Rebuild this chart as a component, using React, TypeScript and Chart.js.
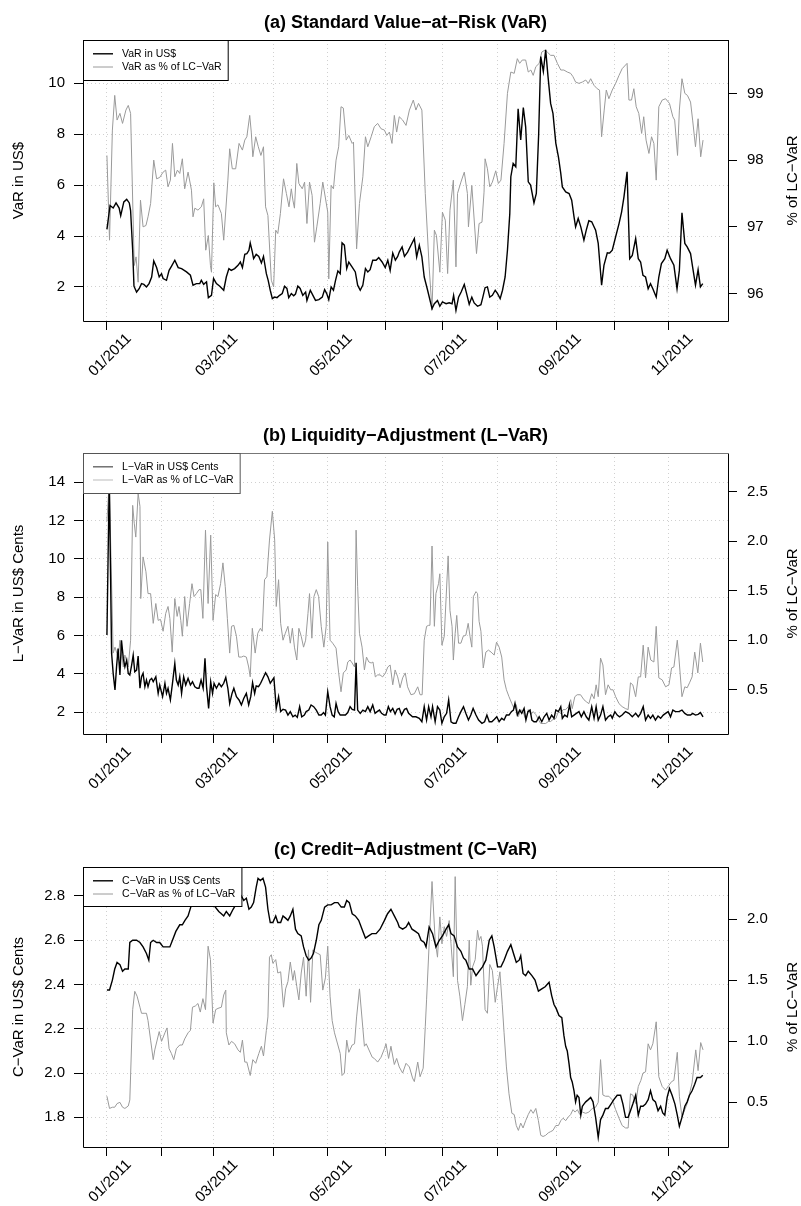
import React, { useEffect, useRef } from "react";
import { Chart, registerables } from "chart.js";

Chart.register(...registerables);

const FONT = "'Liberation Sans', Arial, Helvetica, sans-serif";

// Trading-day index (weekdays counted from 3 Jan 2011) of the first day of each month.
const monthTickDays = [0, 21, 41, 64, 85, 107, 129, 150, 173, 195, 216];
const monthTickLabels = ["01/2011", "", "03/2011", "", "05/2011", "", "07/2011", "", "09/2011", "", "11/2011"];

type Pt = [number, number];

// (a) VaR in US$  [trading day, value]
const varUsd: Pt[] = [
  [0, 4.26], [1.2, 5.2], [2.4, 5.1], [3.5, 5.3], [4.7, 5.1], [5.3, 4.8], [6.5, 5.34], [7.6, 5.44], [8.6, 5.3], [9.1, 5.0],
  [9.9, 3.44], [10.4, 2.03], [11.4, 1.8], [12.4, 1.93], [13.3, 2.13], [14.2, 2.1], [15.2, 2.0], [16.2, 2.13], [17.2, 2.39], [18, 3.02],
  [19.1, 2.76], [20.1, 2.39], [21, 2.52], [21.6, 2.33], [22.9, 2.26], [23.9, 2.65], [24.8, 2.81], [26.1, 3.05], [27.4, 2.76], [28.7, 2.72],
  [30.6, 2.59], [32.1, 2.46], [33.1, 2.07], [34.4, 2.13], [35.7, 2.13], [36.3, 2.26], [37.2, 2.1], [38.3, 2.2], [39, 1.58], [40.2, 1.67],
  [41, 2.33], [42.1, 2.13], [43.4, 2.03], [44.9, 1.87], [45.9, 2.39], [46.9, 2.72], [47.8, 2.65], [49.1, 2.72], [50.4, 2.85], [51.3, 2.98],
  [52.1, 2.76], [53, 3.28], [53.8, 3.31], [54.6, 3.44], [55.1, 3.73], [55.9, 3.38], [56.4, 3.11], [57.4, 3.28], [58.4, 3.2], [59.4, 2.94],
  [60.2, 3.2], [61.3, 2.52], [62, 2.26], [62.8, 1.87], [63.6, 1.54], [64.5, 1.6], [65.4, 1.58], [66.4, 1.67], [67.4, 1.74], [68.3, 2.03],
  [69.2, 1.94], [69.9, 1.58], [70.9, 1.74], [71.8, 1.65], [72.5, 1.72], [73.4, 2.03], [74.3, 1.94], [75.3, 1.67], [76.4, 1.8], [76.9, 1.47],
  [78.2, 1.87], [79.2, 1.67], [80.2, 1.47], [81.5, 1.5], [82.8, 1.6], [83.7, 1.9], [84.5, 1.74], [85.3, 1.5], [86.2, 2.0], [87.1, 1.87],
  [87.9, 2.26], [88.8, 2.63], [89.7, 2.52], [90.4, 3.73], [91.3, 3.64], [92.2, 2.72], [93, 2.98], [94.3, 2.78], [95.5, 2.59], [96.4, 2.07],
  [97.4, 1.87], [98.4, 2.07], [99.4, 2.72], [100.3, 2.59], [101.2, 2.68], [102.2, 3.05], [103.5, 3.05], [104.5, 3.15], [105.8, 2.98], [107, 2.76],
  [108, 3.05], [108.9, 2.65], [109.9, 3.33], [110.9, 3.05], [111.8, 3.2], [112.4, 3.37], [113.5, 3.57], [114.4, 3.2], [115.6, 3.37], [116.9, 3.64],
  [118.2, 3.9], [119.1, 3.18], [120.1, 3.64], [121.1, 3.18], [122, 2.39], [123.3, 1.87], [125, 1.15], [125.9, 1.34], [127.1, 1.47], [128, 1.24],
  [129, 1.41], [130.4, 1.34], [131.6, 1.38], [132.7, 1.34], [133.3, 1.67], [134.2, 1.08], [135.2, 1.6], [136.2, 1.8], [137.4, 2.1], [138.3, 1.74],
  [139.3, 1.32], [140.3, 1.6], [141.2, 1.37], [142.5, 1.24], [143.8, 1.3], [144.4, 1.54], [145.4, 1.97], [146.3, 2.0], [147.2, 1.6], [148.2, 1.67],
  [149.3, 1.87], [150.2, 1.74], [151.2, 1.54], [152.1, 1.87], [153.1, 2.39], [154, 3.44], [154.9, 4.88], [155.3, 6.33], [156.2, 6.85], [157.2, 6.72],
  [158.1, 9.0], [159.1, 7.77], [160.1, 9.05], [161, 8.29], [162, 6.13], [162.9, 6.0], [164.2, 5.3], [165.1, 5.67], [166, 8.0], [166.8, 11.05],
  [167.8, 10.46], [168.7, 11.31], [169.6, 10.26], [170.6, 9.21], [171.5, 8.82], [172.6, 7.64], [173.6, 7.11], [174.5, 6.46], [175.1, 5.93], [176.4, 5.73],
  [177.7, 5.67], [178.7, 5.41], [179.6, 4.75], [180.2, 4.36], [181.2, 4.69], [182.2, 4.36], [183.4, 3.84], [184.3, 4.23], [185.3, 4.6], [186.4, 4.56],
  [187.9, 4.23], [188.9, 3.71], [190.2, 2.07], [191.1, 2.85], [192.4, 3.34], [193.3, 3.33], [194.3, 3.44], [195.6, 3.97], [196.9, 4.49], [197.9, 4.95],
  [198.8, 5.54], [200, 6.52], [201, 3.11], [202, 3.24], [203.3, 3.9], [204.3, 3.11], [205.2, 2.98], [206.1, 2.46], [207.1, 2.39], [208.1, 1.93],
  [209, 2.13], [209.9, 1.93], [211.2, 1.6], [212.2, 2.39], [213.2, 2.92], [214.5, 3.11], [215.4, 3.44], [216.7, 3.11], [218, 2.85], [219.2, 1.93],
  [220.1, 2.65], [221.1, 4.91], [222.2, 3.71], [223.1, 3.57], [224.4, 3.31], [225.2, 2.78], [226.3, 2.07], [227.3, 2.68], [228.2, 2.0], [229.1, 2.13],
];

// (a) VaR as % of LC-VaR
const varPct: Pt[] = [
  [0, 98.07], [1, 96.8], [2.1, 98.45], [3, 98.97], [3.9, 98.6], [5, 98.7], [6, 98.55], [7.3, 98.75], [8.2, 98.82], [9.1, 98.7],
  [10.5, 96.42], [11.2, 96.55], [12, 96.17], [12.9, 97.4], [13.9, 97.0], [15, 97.02], [15.8, 97.15], [16.8, 97.35], [18, 98.0], [19.1, 97.72],
  [20.3, 97.74], [21.6, 97.82], [22.6, 97.85], [23.5, 97.6], [24.4, 97.7], [25.2, 98.25], [26.1, 97.75], [27.1, 97.85], [28, 97.8], [29, 98.02],
  [29.9, 97.57], [31.2, 97.82], [32.5, 97.55], [33.1, 97.15], [33.8, 97.28], [35, 97.25], [36.3, 97.3], [37.2, 97.42], [38, 96.65], [39, 96.87],
  [39.8, 96.42], [40.2, 96.32], [41.1, 97.66], [41.8, 97.3], [42.7, 97.33], [44, 97.2], [44.9, 96.8], [46.5, 97.7], [47.2, 98.17], [48.2, 97.87],
  [49.5, 97.87], [50.8, 98.25], [52.1, 98.15], [53, 98.3], [53.8, 98.35], [54.9, 98.67], [55.5, 98.42], [56.1, 98.05], [57.2, 98.35], [58.2, 98.2],
  [59.2, 98.07], [60.2, 98.2], [61, 97.3], [61.9, 97.17], [63.2, 96.2], [64.1, 96.1], [64.9, 96.95], [65.7, 96.9], [66.7, 97.2], [67.9, 97.72],
  [69, 97.5], [70, 97.3], [70.9, 97.57], [71.5, 97.4], [72.1, 97.28], [73, 97.95], [73.8, 97.65], [75.1, 97.57], [76, 97.67], [76.9, 97.05],
  [77.9, 97.67], [78.9, 97.47], [79.8, 96.77], [80.7, 97.0], [82, 97.35], [83, 97.67], [84.9, 97.22], [85.3, 96.22], [86.2, 97.62], [87.1, 97.57],
  [88.1, 98.0], [89.1, 98.2], [90, 98.8], [90.9, 98.78], [92, 98.3], [93, 98.37], [94.3, 98.25], [94.8, 98.27], [96, 96.67], [97.1, 97.35],
  [98.4, 97.75], [99.4, 98.35], [100.3, 98.2], [101.6, 98.35], [102.8, 98.5], [104.1, 98.55], [105.4, 98.47], [106.7, 98.45], [107.6, 98.37], [108.6, 98.42],
  [109.6, 98.25], [110.5, 98.67], [111.4, 98.42], [112.4, 98.65], [113.7, 98.6], [115, 98.52], [116.3, 98.75], [117.8, 98.9], [118.8, 98.75], [119.8, 98.85],
  [121.1, 98.75], [122.4, 97.5], [123.9, 96.4], [125, 95.75], [125.9, 96.95], [126.7, 96.87], [128, 96.32], [129, 97.22], [130.1, 97.1], [131, 96.3],
  [131.9, 97.25], [133.2, 97.7], [134.2, 96.4], [134.8, 97.5], [136.1, 97.67], [137.4, 97.82], [138.6, 97.5], [139, 97.0], [140.3, 97.62], [142.1, 96.6],
  [143.1, 97.05], [144.2, 97.07], [145, 97.52], [145.4, 98.02], [146.3, 97.87], [147.2, 97.6], [148.2, 97.67], [149.5, 97.84], [150.5, 97.65], [151.5, 97.7],
  [152.7, 98.25], [154, 99.0], [155.3, 99.32], [156.6, 99.3], [157.8, 99.52], [158.7, 99.45], [159.7, 99.5], [161, 99.5], [162, 99.32], [163, 99.35],
  [163.9, 99.27], [164.9, 99.4], [166.2, 99.45], [167.2, 99.62], [168.5, 99.65], [169.3, 99.62], [170.6, 99.57], [171.9, 99.57], [173.2, 99.45], [174.5, 99.35],
  [175.7, 99.35], [177, 99.32], [178.3, 99.3], [179.2, 99.25], [180.2, 99.17], [181.5, 99.15], [182.8, 99.17], [184.1, 99.2], [185.1, 99.15], [186, 99.22],
  [187.3, 99.12], [188.5, 99.07], [189.4, 99.05], [190.2, 98.35], [191.2, 98.75], [192, 99.05], [193, 98.92], [194.3, 99.05], [195.6, 99.15], [196.9, 99.27],
  [198.1, 99.37], [200, 99.45], [200.7, 98.9], [201.7, 98.9], [202.6, 99.07], [203.5, 98.8], [204.5, 98.7], [205.6, 98.4], [206.4, 98.65], [207.3, 98.3],
  [208.4, 98.1], [209.4, 98.35], [210.3, 98.25], [211.2, 97.7], [212.2, 98.8], [213.5, 98.9], [214.8, 98.92], [216.3, 98.85], [217.6, 98.65], [218.3, 98.6],
  [219.4, 98.07], [220.1, 98.75], [221.1, 99.22], [222.2, 99.0], [223.2, 98.97], [224.4, 98.87], [225.2, 98.6], [226.3, 98.2], [227.3, 98.62], [228.3, 98.05],
  [229.2, 98.3],
];

// (b) L-VaR in US$ cents
const lvarUsd: Pt[] = [
  [0, 6.02], [0.9, 14.2], [1.8, 5.06], [2.4, 4.02], [3.1, 3.15], [3.7, 4.36], [4.3, 5.32], [5, 3.93], [5.6, 5.75], [6.3, 4.8],
  [6.9, 4.36], [7.6, 4.71], [8.2, 4.02], [8.8, 3.93], [9.5, 4.45], [10.1, 4.97], [10.7, 4.1], [11.4, 4.19], [12, 4.92], [12.7, 3.24],
  [13.3, 3.84], [13.9, 4.02], [14.6, 3.32], [15.2, 3.67], [15.8, 3.32], [16.5, 3.67], [17.2, 3.76], [17.8, 3.58], [18.8, 3.84], [19.7, 2.97],
  [20.3, 3.41], [21.4, 2.8], [22.3, 3.5], [22.9, 2.97], [23.5, 3.24], [24.4, 2.63], [25.2, 3.5], [26.1, 4.54], [26.7, 3.67], [27.4, 3.41],
  [28, 3.84], [28.7, 2.97], [29.5, 3.84], [30.3, 3.41], [31.2, 3.76], [32.1, 3.41], [32.9, 3.58], [33.8, 3.32], [34.7, 3.24], [35.4, 3.24],
  [36.2, 3.67], [37, 3.24], [37.7, 4.8], [38.3, 3.32], [39.1, 2.19], [39.9, 3.58], [40.6, 2.97], [41.2, 3.5], [42.1, 3.24], [43.1, 3.5],
  [44, 3.32], [44.9, 3.5], [45.7, 3.81], [46.5, 3.24], [47.2, 2.45], [48.1, 2.97], [48.8, 3.24], [49.8, 2.8], [50.8, 2.63], [51.7, 2.37],
  [52.6, 2.71], [53.6, 2.97], [54.5, 2.37], [55.3, 2.8], [56, 3.53], [56.8, 2.97], [57.4, 3.36], [58.3, 3.32], [59.1, 3.5], [60, 3.76],
  [61, 4.05], [61.9, 3.84], [62.8, 3.5], [63.6, 3.67], [64.2, 3.79], [65.1, 2.19], [66, 2.8], [66.8, 2.02], [67.7, 2.14], [68.7, 2.1],
  [69.6, 1.84], [70.5, 2.02], [71.5, 1.75], [72.4, 1.84], [73.2, 1.72], [74.1, 2.28], [74.9, 1.75], [75.9, 1.84], [76.6, 2.02], [77.6, 2.1],
  [78.5, 2.37], [79.5, 2.28], [80.5, 2.1], [81.5, 1.84], [82.4, 1.84], [83.3, 1.97], [84, 1.84], [84.9, 3.06], [85.8, 2.28], [86.6, 1.84],
  [87.4, 1.75], [88.1, 2.45], [88.9, 2.02], [89.7, 1.84], [90.7, 1.84], [91.7, 1.84], [92.6, 1.97], [93.5, 2.28], [94.3, 2.14], [95.2, 2.1],
  [95.8, 4.57], [96.4, 2.1], [97.4, 1.93], [98.4, 2.1], [99.4, 2.02], [100.3, 2.28], [101.2, 2.02], [102.2, 2.37], [103.1, 1.93], [103.9, 2.02],
  [104.8, 2.1], [105.6, 1.93], [106.6, 1.84], [107.3, 1.84], [108.2, 2.28], [109, 2.02], [109.9, 2.19], [110.8, 1.9], [111.6, 2.14], [112.4, 2.19],
  [113.3, 1.84], [114.4, 2.14], [115.2, 2.19], [116, 1.93], [117.5, 1.75], [118.8, 1.75], [120.1, 1.67], [121.1, 1.49], [122, 2.28], [122.9, 1.58],
  [123.7, 2.28], [124.6, 1.75], [125.2, 2.28], [126.2, 1.49], [127.1, 2.28], [128, 2.1], [128.8, 1.41], [129.7, 1.75], [130.6, 1.93], [131.4, 2.63],
  [132.3, 1.49], [133.2, 1.41], [134.2, 1.41], [135.2, 1.75], [136.1, 2.02], [137.1, 2.28], [138, 1.93], [139, 1.58], [139.9, 1.84], [140.8, 2.19],
  [141.9, 1.84], [142.9, 1.58], [144.2, 1.41], [145.2, 1.49], [146.1, 1.84], [147, 1.49], [148, 1.49], [149, 1.62], [149.9, 1.75], [150.8, 1.49],
  [151.8, 1.67], [152.7, 1.58], [153.6, 1.84], [154.6, 1.84], [155.5, 2.02], [156.3, 2.1], [156.9, 2.45], [157.8, 1.84], [158.7, 2.1], [159.5, 1.93],
  [160.4, 2.19], [161.1, 1.58], [161.9, 2.02], [162.7, 2.1], [163.4, 1.58], [164.2, 1.49], [165.1, 1.49], [166.2, 1.75], [167.2, 1.49], [168.1, 1.75],
  [169.1, 1.93], [170, 1.58], [171, 1.84], [171.9, 1.67], [172.6, 2.1], [173.6, 2.02], [174.5, 2.28], [175.1, 1.67], [176, 1.84], [177, 1.75],
  [177.9, 2.37], [178.7, 1.75], [179.6, 1.84], [180.5, 1.93], [181.5, 2.02], [182.4, 1.75], [183.4, 2.02], [184.3, 1.75], [185.3, 1.58], [186.4, 2.28],
  [187.3, 1.67], [188.1, 2.28], [188.9, 1.58], [189.8, 1.84], [190.7, 2.28], [191.7, 1.58], [192.7, 1.75], [193.7, 1.84], [194.3, 1.67], [195.3, 2.02],
  [196.2, 1.84], [197.1, 1.75], [198.1, 1.84], [199.4, 2.02], [200.7, 1.93], [202, 1.75], [203.3, 1.93], [204.3, 1.75], [205.2, 1.93], [206.2, 2.28],
  [207.1, 1.58], [208.1, 1.84], [209, 1.67], [209.9, 1.84], [210.9, 1.58], [211.9, 1.79], [212.9, 1.67], [213.9, 1.84], [214.8, 1.93], [215.8, 2.02],
  [216.7, 1.75], [217.6, 2.1], [218.6, 2.02], [219.9, 2.02], [221.1, 2.1], [222.2, 1.93], [223.2, 1.84], [224.4, 1.84], [225.2, 1.93], [226.3, 1.84],
  [227.3, 1.88], [228.2, 1.97], [229.2, 1.75],
];

// (b) L-VaR as % of LC-VaR
const lvarPct: Pt[] = [
  [0, 2.2], [0.9, 2.6], [2.4, 0.87], [3.1, 0.93], [3.8, 0.87], [4.3, 0.8], [5, 1.0], [5.6, 0.87], [6.3, 0.73], [6.9, 0.85],
  [8.2, 0.73], [9.1, 1.0], [9.9, 2.36], [10.5, 2.18], [11.1, 2.04], [12, 2.48], [12.7, 2.35], [13, 1.42], [13.9, 1.84], [15, 1.69],
  [15.8, 1.47], [16.8, 1.47], [17.8, 1.17], [18.8, 1.37], [19.7, 1.2], [20.6, 1.21], [21.6, 1.09], [22.6, 1.27], [23.5, 1.34], [24.2, 1.22],
  [25.1, 0.88], [26.1, 1.42], [27, 1.24], [27.7, 1.34], [28.4, 1.2], [29, 1.04], [29.9, 1.44], [30.8, 1.14], [31.8, 1.37], [32.7, 1.57],
  [33.5, 1.44], [34.4, 1.47], [35.4, 1.51], [36.1, 1.51], [36.9, 1.22], [37.9, 2.11], [38.9, 1.37], [39.9, 2.06], [40.8, 1.2], [41.8, 1.46],
  [42.7, 1.44], [43.7, 1.57], [44.6, 1.78], [45.5, 1.54], [46.3, 1.22], [47.2, 0.87], [47.9, 1.14], [48.8, 1.15], [49.8, 1.04], [50.7, 0.83],
  [51.7, 0.83], [52.6, 0.84], [53.6, 0.83], [54.5, 0.73], [55.1, 0.63], [55.9, 1.12], [57, 0.87], [58, 1.07], [59, 1.12], [59.7, 1.09],
  [60.6, 1.61], [61.5, 1.64], [62.5, 2.01], [63.6, 2.3], [64.5, 2.01], [65.1, 1.34], [66, 1.61], [66.8, 1.17], [67.7, 1.0], [68.6, 1.07],
  [69.6, 1.14], [70.5, 0.97], [71.3, 1.12], [72.1, 0.93], [73, 0.8], [73.8, 1.12], [74.7, 1.04], [75.6, 0.93], [76.4, 1.0], [77.3, 1.27],
  [77.9, 1.47], [78.8, 1.02], [79.6, 1.44], [80.5, 1.51], [81.4, 1.44], [82.4, 1.14], [83.4, 0.93], [84.3, 1.14], [84.9, 1.99], [85.8, 1.0],
  [86.8, 0.97], [88.1, 0.92], [89.1, 0.67], [90, 0.48], [90.9, 0.67], [92, 0.7], [92.6, 0.78], [93.5, 0.8], [94.3, 0.77], [95.2, 0.73],
  [95.8, 2.11], [96.4, 1.54], [97.1, 1.07], [98.1, 0.93], [99, 0.7], [99.8, 0.83], [100.7, 0.78], [101.6, 0.77], [102.3, 0.78], [103.2, 0.63],
  [104.1, 0.65], [105, 0.65], [106, 0.63], [107.1, 0.67], [108, 0.73], [108.9, 0.75], [109.9, 0.55], [110.8, 0.7], [111.8, 0.63], [112.7, 0.52],
  [113.7, 0.62], [114.7, 0.67], [115.6, 0.53], [116.9, 0.45], [118.2, 0.46], [119.5, 0.53], [120.4, 0.45], [121.2, 0.45], [122, 1.0], [122.9, 1.14],
  [123.7, 1.15], [124.2, 1.15], [125, 1.95], [125.9, 1.14], [126.5, 1.47], [127.5, 1.57], [128, 1.67], [128.8, 0.95], [129.7, 1.04], [131.2, 1.85],
  [131.9, 1.3], [132.7, 1.14], [133.2, 0.8], [133.9, 1.07], [134.5, 1.25], [135.2, 0.97], [136.1, 0.97], [137, 1.04], [138, 1.05], [138.9, 1.17],
  [139.6, 1.04], [140.3, 0.93], [140.9, 1.44], [141.9, 1.49], [142.5, 1.47], [143.1, 1.19], [143.8, 1.09], [144.7, 0.72], [145.7, 0.88], [146.7, 0.9],
  [147.7, 0.88], [148.9, 0.85], [149.8, 0.98], [150.8, 0.93], [151.8, 0.83], [152.7, 0.6], [153.6, 0.5], [154.6, 0.43], [155.7, 0.36], [156.6, 0.31],
  [157.4, 0.35], [158.2, 0.23], [159.1, 0.3], [160, 0.28], [161, 0.2], [162, 0.3], [163, 0.25], [163.9, 0.28], [164.9, 0.25], [165.9, 0.2],
  [166.8, 0.16], [167.7, 0.16], [168.7, 0.16], [169.7, 0.18], [170.6, 0.18], [171.5, 0.2], [172.6, 0.21], [173.6, 0.28], [174.5, 0.26], [175.4, 0.3],
  [176.4, 0.3], [177.4, 0.33], [178.3, 0.4], [178.9, 0.31], [179.9, 0.43], [180.8, 0.45], [182.1, 0.45], [183.4, 0.4], [184.3, 0.38], [185.3, 0.36],
  [186.4, 0.46], [187.3, 0.41], [188.1, 0.55], [188.9, 0.43], [189.8, 0.82], [190.7, 0.75], [191.7, 0.45], [192.7, 0.55], [193.7, 0.5], [194.6, 0.5],
  [195.6, 0.43], [196.9, 0.36], [198.1, 0.33], [199.4, 0.31], [200.4, 0.3], [201.3, 0.57], [202.2, 0.55], [203.3, 0.43], [204.3, 0.63], [205.2, 0.63],
  [206.2, 0.95], [207.1, 0.62], [208.1, 0.93], [209.1, 0.8], [210.3, 0.78], [211.2, 1.14], [212.2, 0.62], [213.5, 0.6], [214.8, 0.53], [216.1, 0.55],
  [217.1, 0.72], [218, 0.73], [219.3, 1.0], [219.9, 0.83], [221.1, 0.43], [222.2, 0.53], [223.1, 0.52], [224, 0.57], [225, 0.63], [226, 0.88],
  [227.2, 0.67], [228.2, 0.97], [229.1, 0.78],
];

// (c) C-VaR in US$ cents
const cvarUsd: Pt[] = [
  [0, 2.375], [1, 2.375], [2.1, 2.42], [3, 2.47], [3.9, 2.5], [5, 2.49], [6, 2.46], [6.9, 2.47], [8.2, 2.47], [8.8, 2.59],
  [9.9, 2.6], [11.4, 2.6], [12.7, 2.59], [13.9, 2.57], [15.2, 2.54], [16.1, 2.51], [16.8, 2.59], [17.8, 2.6], [19.1, 2.59], [20.3, 2.59],
  [21.6, 2.57], [22.9, 2.57], [24.2, 2.57], [25.2, 2.6], [26.5, 2.64], [28, 2.67], [29, 2.67], [30, 2.69], [31.2, 2.71], [32.5, 2.76],
  [33.1, 2.8], [35, 2.82], [37, 2.84], [39, 2.8], [41, 2.76], [43, 2.73], [44, 2.72], [44.9, 2.71], [45.9, 2.73], [47.2, 2.71],
  [48.5, 2.74], [49.5, 2.76], [50.8, 2.78], [51.7, 2.8], [52.6, 2.78], [53.6, 2.79], [54.6, 2.74], [55.5, 2.75], [56.4, 2.77], [57.4, 2.84],
  [58.1, 2.88], [59, 2.87], [60, 2.88], [61, 2.84], [61.9, 2.74], [62.8, 2.68], [63.8, 2.68], [64.9, 2.71], [65.7, 2.68], [66.8, 2.68],
  [67.7, 2.71], [68.7, 2.7], [69.6, 2.69], [70.5, 2.71], [71.5, 2.74], [72.5, 2.65], [73.4, 2.63], [74.7, 2.62], [75.6, 2.57], [76.6, 2.53],
  [77.6, 2.51], [78.5, 2.52], [79.4, 2.54], [80.5, 2.6], [81.5, 2.67], [82.4, 2.69], [83.7, 2.75], [84.9, 2.76], [86.2, 2.76], [87.5, 2.77],
  [88.8, 2.77], [90.1, 2.75], [91.3, 2.75], [92.2, 2.78], [93.2, 2.77], [94.3, 2.72], [95.5, 2.71], [96.8, 2.69], [98.1, 2.65], [99.4, 2.61],
  [100.6, 2.62], [101.9, 2.63], [103.5, 2.63], [105, 2.65], [106.7, 2.69], [107.9, 2.72], [109.2, 2.74], [110.5, 2.71], [111.8, 2.68], [112.4, 2.66],
  [113.7, 2.65], [115, 2.66], [116, 2.68], [117.3, 2.65], [118.6, 2.64], [119.8, 2.63], [120.8, 2.6], [122, 2.59], [122.7, 2.57], [123.9, 2.66],
  [125.2, 2.63], [126.5, 2.57], [127.8, 2.6], [129, 2.62], [130.4, 2.65], [131.4, 2.67], [132.3, 2.63], [133.5, 2.62], [134.8, 2.57], [136.1, 2.55],
  [137.1, 2.52], [138, 2.51], [139.3, 2.47], [140.6, 2.47], [141.9, 2.44], [143.1, 2.46], [144.4, 2.48], [145.7, 2.51], [147, 2.6], [148, 2.62],
  [148.9, 2.57], [150.2, 2.48], [151.5, 2.48], [152.7, 2.51], [154, 2.55], [155.3, 2.58], [156.6, 2.53], [157.4, 2.5], [158.5, 2.51], [159.1, 2.53],
  [160, 2.45], [161, 2.44], [162, 2.46], [163.4, 2.44], [164.6, 2.42], [165.9, 2.37], [167.2, 2.38], [168.5, 2.39], [170, 2.41], [171, 2.35],
  [171.9, 2.31], [172.8, 2.29], [173.8, 2.26], [174.9, 2.25], [175.7, 2.17], [176.4, 2.12], [177, 2.1], [177.7, 2.04], [178.3, 1.98], [178.9, 1.96],
  [179.6, 1.92], [180.2, 1.87], [180.8, 1.9], [181.5, 1.89], [182.2, 1.81], [182.8, 1.85], [183.4, 1.86], [184.1, 1.87], [185.1, 1.88], [186, 1.89],
  [186.9, 1.87], [187.9, 1.8], [188.9, 1.71], [189.8, 1.79], [190.7, 1.81], [191.7, 1.84], [192.7, 1.84], [193.8, 1.86], [194.9, 1.88], [196.2, 1.9],
  [197.5, 1.9], [198.4, 1.86], [199.4, 1.8], [200.4, 1.8], [201.3, 1.83], [202.2, 1.86], [203.3, 1.9], [204.3, 1.81], [205.2, 1.85], [206.1, 1.85],
  [207.1, 1.86], [208.1, 1.88], [209, 1.92], [209.9, 1.88], [210.9, 1.87], [211.9, 1.83], [212.9, 1.85], [213.7, 1.82], [214.5, 1.81], [215.4, 1.89],
  [216.3, 1.93], [217.3, 1.9], [218.4, 1.86], [219.3, 1.81], [220.1, 1.76], [221.1, 1.8], [222.2, 1.85], [223.1, 1.87], [224, 1.9], [225, 1.92],
  [226, 1.95], [226.9, 1.98], [228.2, 1.98], [229.1, 1.99],
];

// (c) C-VaR as % of LC-VaR
const cvarPct: Pt[] = [
  [0, 0.55], [1, 0.45], [2.1, 0.46], [3, 0.46], [3.9, 0.49], [5, 0.5], [6, 0.46], [6.9, 0.45], [8.2, 0.47], [8.8, 0.52],
  [9.9, 1.26], [10.7, 1.41], [11.6, 1.37], [12.7, 1.28], [13.3, 1.23], [14.3, 1.23], [15.2, 1.23], [15.8, 1.17], [16.8, 1.01], [17.8, 0.85],
  [18.4, 0.93], [20.1, 1.08], [21, 1.0], [22.3, 1.07], [23.1, 1.11], [23.9, 0.94], [24.8, 0.9], [25.7, 0.85], [26.7, 0.94], [28, 0.97],
  [29, 0.97], [29.9, 1.02], [31.2, 1.07], [32.1, 1.09], [32.9, 1.28], [34, 1.29], [35, 1.31], [35.9, 1.24], [36.9, 1.35], [37.9, 1.26],
  [38.9, 1.78], [39.8, 1.67], [40.8, 1.15], [41.8, 1.26], [42.7, 1.27], [44, 1.28], [44.9, 1.38], [45.7, 1.42], [45.9, 1.07], [46.9, 0.97],
  [47.9, 1.0], [49.1, 0.98], [50.4, 0.93], [51.3, 0.91], [52.1, 1.01], [53, 0.83], [53.8, 0.83], [55.1, 0.72], [56.1, 0.85], [57.2, 0.82],
  [58.4, 0.9], [59.4, 0.96], [60.2, 0.88], [61.3, 1.09], [61.9, 1.2], [62.5, 1.69], [63.2, 1.71], [63.8, 1.64], [64.9, 1.67], [65.7, 1.56],
  [66.8, 1.57], [67.9, 1.28], [68.7, 1.43], [69.6, 1.49], [70.5, 1.65], [71.5, 1.5], [72.1, 1.58], [73, 1.45], [73.8, 1.34], [74.7, 1.56],
  [75.6, 1.69], [76.6, 1.37], [77.5, 1.75], [78.3, 1.32], [79.2, 1.75], [80.2, 1.73], [81.1, 1.72], [82, 1.71], [83, 1.42], [84, 1.52],
  [84.9, 1.78], [85.8, 1.37], [86.6, 1.17], [87.5, 1.07], [89.7, 0.9], [90.4, 0.72], [91.3, 0.74], [92.2, 1.01], [93, 0.91], [94.3, 0.97],
  [95.2, 0.98], [96, 1.2], [97.1, 1.43], [99, 0.96], [99.7, 0.98], [102, 0.87], [102.8, 0.86], [104.1, 0.83], [105.4, 0.87], [106.7, 0.94],
  [107.3, 0.98], [108.3, 0.86], [109.2, 0.96], [110.5, 0.81], [111.4, 0.86], [112.4, 0.79], [113.7, 0.74], [115, 0.82], [116.3, 0.79], [117.5, 0.7],
  [118.2, 0.67], [119.5, 0.83], [120.4, 0.71], [121.6, 0.78], [122.4, 1.12], [122.9, 1.34], [124.2, 1.94], [125, 2.31], [126.2, 1.83], [127.1, 1.69],
  [128, 2.02], [128.8, 1.8], [129.7, 1.94], [130.6, 1.86], [131.6, 1.99], [132.3, 1.8], [133.2, 1.53], [133.9, 2.35], [134.8, 1.5], [135.7, 1.37],
  [136.7, 1.17], [137.6, 1.3], [138.6, 1.45], [139.3, 1.83], [139.9, 1.46], [140.6, 1.61], [141.6, 1.67], [142.5, 1.91], [143.1, 1.83], [143.8, 1.86],
  [144.4, 1.78], [145.4, 1.26], [146.3, 1.23], [147.2, 1.63], [148.2, 1.58], [149.3, 1.32], [150.2, 1.45], [151.1, 1.57], [152, 1.3], [152.7, 1.07],
  [153.6, 0.79], [154.6, 0.57], [155.7, 0.41], [156.6, 0.4], [157.4, 0.31], [158.2, 0.27], [159.1, 0.33], [160, 0.29], [161, 0.35], [162, 0.4],
  [163, 0.44], [163.9, 0.41], [164.9, 0.45], [165.9, 0.35], [166.8, 0.23], [167.7, 0.22], [168.7, 0.23], [169.7, 0.25], [170.6, 0.26], [171.5, 0.27],
  [172.6, 0.31], [173.6, 0.31], [174.5, 0.35], [175.4, 0.37], [176.4, 0.35], [177.4, 0.38], [178.3, 0.4], [179.2, 0.44], [180, 0.42], [180.9, 0.44],
  [181.8, 0.4], [182.8, 0.42], [184.1, 0.41], [185.3, 0.42], [186.6, 0.45], [187.9, 0.46], [188.9, 0.5], [189.8, 0.85], [190.7, 0.56], [191.7, 0.55],
  [193, 0.55], [194.3, 0.52], [195.6, 0.44], [196.9, 0.37], [198.1, 0.31], [199.4, 0.29], [200.4, 0.29], [201.3, 0.57], [202.2, 0.56], [203.3, 0.49],
  [204.3, 0.63], [205.3, 0.68], [206.1, 0.74], [207.1, 0.75], [208.1, 0.98], [209, 0.93], [209.9, 0.98], [211.2, 1.16], [212.2, 0.71], [213.5, 0.63],
  [214.8, 0.6], [216.1, 0.64], [217.1, 0.67], [218, 0.68], [219.3, 0.91], [220.1, 0.55], [221.1, 0.38], [222.2, 0.44], [223.1, 0.49], [224, 0.57],
  [225, 0.66], [226.4, 0.93], [227.3, 0.76], [228.3, 0.99], [229.2, 0.93],
];

interface Panel {
  title: string;
  yLabel: string;
  usdName: string;
  pctName: string;
  usd: Pt[];
  pct: Pt[];
  leftRange: [number, number];
  leftTicks: number[];
  leftDigits: number;
  rightRange: [number, number];
  rightTicks: number[];
  rightDigits: number;
  canvasTop: number;
  canvasHeight: number;
  plotBottom: number;
  legendHeight: number;
  legendColors: [string, string];
  legendBorder: string;
  topEdge: string;
}

const X_RANGE: [number, number] = [-9.2, 238.8];
const PLOT_LEFT = 83;
const PLOT_RIGHT = 728;
const PLOT_TOP = 40;
const WIDTH = 801;
const BLACK_W = 1.4;
const GRAY = "#9a9a9a";

const panels: Panel[] = [
  {
    title: "(a) Standard Value\u2212at\u2212Risk (VaR)",
    yLabel: "VaR in US$",
    usdName: "VaR in US$",
    pctName: "VaR as % of LC\u2212VaR",
    usd: varUsd,
    pct: varPct,
    leftRange: [0.662, 11.7],
    leftTicks: [2, 4, 6, 8, 10],
    leftDigits: 0,
    rightRange: [95.589, 99.8],
    rightTicks: [96, 97, 98, 99],
    rightDigits: 0,
    canvasTop: 0,
    canvasHeight: 413,
    plotBottom: 321,
    legendHeight: 40,
    legendColors: ["#000000", GRAY],
    legendBorder: "#000000",
    topEdge: "#000000",
  },
  {
    title: "(b) Liquidity\u2212Adjustment (L\u2212VaR)",
    yLabel: "L\u2212VaR in US$ Cents",
    usdName: "L\u2212VaR in US$ Cents",
    pctName: "L\u2212VaR as % of LC\u2212VaR",
    usd: lvarUsd,
    pct: lvarPct,
    leftRange: [0.851, 15.53],
    leftTicks: [2, 4, 6, 8, 10, 12, 14],
    leftDigits: 0,
    rightRange: [0.054, 2.888],
    rightTicks: [0.5, 1.0, 1.5, 2.0, 2.5],
    rightDigits: 1,
    canvasTop: 413,
    canvasHeight: 414,
    plotBottom: 321,
    legendHeight: 40,
    legendColors: ["#666666", "#bbbbbb"],
    legendBorder: "#555555",
    topEdge: "#777777",
  },
  {
    title: "(c) Credit\u2212Adjustment (C\u2212VaR)",
    yLabel: "C\u2212VaR in US$ Cents",
    usdName: "C\u2212VaR in US$ Cents",
    pctName: "C\u2212VaR as % of LC\u2212VaR",
    usd: cvarUsd,
    pct: cvarPct,
    leftRange: [1.666, 2.931],
    leftTicks: [1.8, 2.0, 2.2, 2.4, 2.6, 2.8],
    leftDigits: 1,
    rightRange: [0.134, 2.429],
    rightTicks: [0.5, 1.0, 1.5, 2.0],
    rightDigits: 1,
    canvasTop: 827,
    canvasHeight: 379,
    plotBottom: 320,
    legendHeight: 39,
    legendColors: ["#000000", GRAY],
    legendBorder: "#000000",
    topEdge: "#000000",
  },
];

function decorations(p: Panel) {
  return {
    id: "decorations",
    afterDraw(chart: any) {
      const { ctx, chartArea: a } = chart;
      ctx.save();

      // plot frame
      ctx.lineWidth = 1;
      ctx.strokeStyle = "#000";
      ctx.beginPath();
      ctx.moveTo(a.left + 0.5, a.top + 0.5);
      ctx.lineTo(a.left + 0.5, a.bottom + 0.5);
      ctx.lineTo(a.right + 0.5, a.bottom + 0.5);
      ctx.lineTo(a.right + 0.5, a.top + 0.5);
      ctx.stroke();
      ctx.strokeStyle = p.topEdge;
      ctx.beginPath();
      ctx.moveTo(a.left, a.top + 0.5);
      ctx.lineTo(a.right + 1, a.top + 0.5);
      ctx.stroke();

      // legend box in the top-left corner of the plot
      ctx.font = `10.5px ${FONT}`;
      const names = [p.usdName, p.pctName];
      const tw = Math.max(...names.map((n) => ctx.measureText(n).width));
      const lx = a.left;
      const ly = a.top;
      const lw = 39 + tw + 6;
      ctx.fillStyle = "#fff";
      ctx.fillRect(lx, ly, lw, p.legendHeight);
      ctx.strokeStyle = p.legendBorder;
      ctx.strokeRect(lx + 0.5, ly + 0.5, lw, p.legendHeight);
      names.forEach((n, i) => {
        const y = ly + 13.8 + i * 13.2;
        ctx.strokeStyle = p.legendColors[i];
        ctx.lineWidth = i === 0 ? BLACK_W : 1;
        ctx.beginPath();
        ctx.moveTo(lx + 10, y);
        ctx.lineTo(lx + 30, y);
        ctx.stroke();
        ctx.fillStyle = "#000";
        ctx.textAlign = "left";
        ctx.textBaseline = "middle";
        ctx.fillText(n, lx + 39, y);
      });

      // panel title
      ctx.fillStyle = "#000";
      ctx.font = `bold 18px ${FONT}`;
      ctx.textAlign = "center";
      ctx.textBaseline = "middle";
      ctx.fillText(p.title, (a.left + a.right) / 2, 23);

      // axis titles
      ctx.font = `15px ${FONT}`;
      const midY = (a.top + a.bottom) / 2;
      ctx.save();
      ctx.translate(18.5, midY);
      ctx.rotate(-Math.PI / 2);
      ctx.fillText(p.yLabel, 0, 0);
      ctx.restore();
      ctx.save();
      ctx.translate(793, midY);
      ctx.rotate(-Math.PI / 2);
      ctx.fillText("% of LC\u2212VaR", 0, 0);
      ctx.restore();

      ctx.restore();
    },
  };
}

function PanelChart({ p }: { p: Panel }) {
  const ref = useRef<HTMLCanvasElement | null>(null);

  useEffect(() => {
    const canvas = ref.current;
    if (!canvas) return;
    const tickFont = { family: FONT, size: 15 };
    const gridDots = { color: "#d0d0d0", lineWidth: 1, drawTicks: true, tickLength: 9, tickColor: "#000", tickWidth: 1 };

    const chart = new Chart(canvas, {
      type: "line",
      data: {
        datasets: [
          {
            label: p.usdName,
            data: p.usd.map(([x, y]) => ({ x, y })),
            yAxisID: "yL",
            borderColor: "#000",
            borderWidth: BLACK_W,
            pointRadius: 0,
            tension: 0,
            order: 1,
          },
          {
            label: p.pctName,
            data: p.pct.map(([x, y]) => ({ x, y })),
            yAxisID: "yR",
            borderColor: GRAY,
            borderWidth: 1,
            pointRadius: 0,
            tension: 0,
            order: 2,
          },
        ],
      },
      options: {
        responsive: false,
        animation: false,
        devicePixelRatio: 1,
        events: [],
        layout: { padding: { top: PLOT_TOP, left: 0, right: 0, bottom: 0 } },
        plugins: { legend: { display: false }, tooltip: { enabled: false }, title: { display: false } },
        scales: {
          x: {
            type: "linear",
            position: "bottom",
            min: X_RANGE[0],
            max: X_RANGE[1],
            afterBuildTicks: (s: any) => {
              s.ticks = monthTickDays.map((v) => ({ value: v }));
            },
            afterFit: (s: any) => {
              s.height = p.canvasHeight - p.plotBottom;
            },
            ticks: {
              autoSkip: false,
              minRotation: 45,
              maxRotation: 45,
              labelOffset: 22,
              padding: 0,
              color: "#000",
              font: tickFont,
              callback: (v: any) => monthTickLabels[monthTickDays.indexOf(Number(v))] ?? "",
            },
            grid: gridDots,
            border: { display: false, dash: [1, 3] },
          },
          yL: {
            type: "linear",
            position: "left",
            min: p.leftRange[0],
            max: p.leftRange[1],
            afterBuildTicks: (s: any) => {
              s.ticks = p.leftTicks.map((v) => ({ value: v }));
            },
            afterFit: (s: any) => {
              s.width = PLOT_LEFT;
            },
            ticks: {
              padding: 9,
              color: "#000",
              font: tickFont,
              callback: (v: any) => Number(v).toFixed(p.leftDigits),
            },
            grid: gridDots,
            border: { display: false, dash: [1, 3] },
          },
          yR: {
            type: "linear",
            position: "right",
            min: p.rightRange[0],
            max: p.rightRange[1],
            afterBuildTicks: (s: any) => {
              s.ticks = p.rightTicks.map((v) => ({ value: v }));
            },
            afterFit: (s: any) => {
              s.width = WIDTH - PLOT_RIGHT;
            },
            ticks: {
              padding: 10,
              color: "#000",
              font: tickFont,
              callback: (v: any) => Number(v).toFixed(p.rightDigits),
            },
            grid: { ...gridDots, drawOnChartArea: false },
            border: { display: false },
          },
        },
      } as any,
      plugins: [decorations(p)],
    });

    return () => chart.destroy();
  }, [p]);

  return (
    <canvas
      ref={ref}
      width={WIDTH}
      height={p.canvasHeight}
      style={{ position: "absolute", left: 0, top: p.canvasTop, width: WIDTH, height: p.canvasHeight }}
    />
  );
}

export default function App() {
  return (
    <div style={{ position: "absolute", left: 0, top: 0, width: WIDTH, height: 1206, background: "#fff" }}>
      {panels.map((p) => (
        <PanelChart key={p.title} p={p} />
      ))}
    </div>
  );
}
